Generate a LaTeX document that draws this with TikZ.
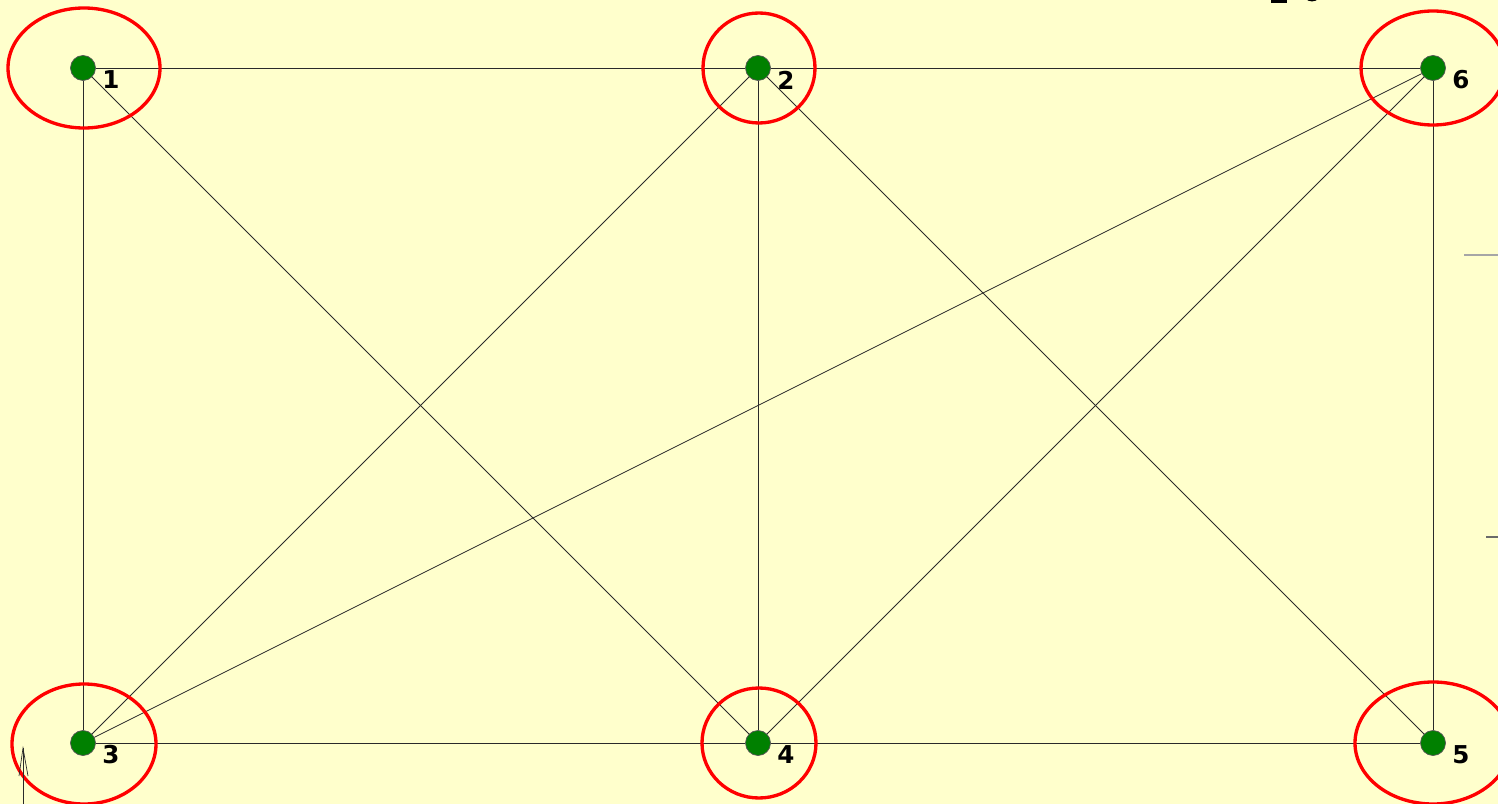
\documentclass[tikz,border=0pt]{standalone}
\usepackage{fontspec}
\setsansfont{DejaVu Sans}
\usepackage{xcolor}
\definecolor{paper}{HTML}{FFFFCC}
\definecolor{leaf}{HTML}{008000}
\definecolor{ink}{HTML}{2A2A2A}
\usetikzlibrary{calc,positioning,shapes.geometric}

\begin{document}
\begin{tikzpicture}[x=0.02cm, y=-0.02cm, font=\sffamily\bfseries\fontsize{14}{14}\selectfont,
		vertex/.style={circle, fill=leaf, draw=ink!80, line width=0.4pt, minimum size=0.5cm, inner sep=0pt},
		numlbl/.style={inner sep=0pt, text=black},
		link/.style={draw=ink, line width=0.45pt},
		ring/.style={draw=red, line width=1.9pt}]
			% Page
			\clip (0,0) rectangle (1498,804);
			\fill[paper] (0,0) rectangle (1498,804);

			% Vertices
			\node[vertex] (n1) at (83,68) {};
			\node[vertex] (n2) at (758,68) {};
			\node[vertex] (n6) at (1433,68) {};
			\node[vertex] (n3) at (83,743) {};
			\node[vertex] (n4) at (758,743) {};
			\node[vertex] (n5) at (1433,743) {};
			\foreach \v in {1,...,6}{
				\node[numlbl] (l\v) at ([shift={(28,12)}]n\v) {\v};
			}

			% Edges
			\foreach \a/\b in {1/2, 1/3, 1/4, 2/3, 2/4, 2/5, 2/6, 6/3, 6/4, 6/5, 3/4, 4/5}{
				\draw[link] (n\a) -- (n\b);
			}

			% Red rings round the vertices
			\draw[ring] (84,68) ellipse [x radius=76, y radius=60];
			\draw[ring] (759,68) ellipse [x radius=56, y radius=55];
			\draw[ring] (1433,68) ellipse [x radius=72, y radius=57];
			\draw[ring] (84,744) ellipse [x radius=72, y radius=60];
			\draw[ring] (759,743) ellipse [x radius=57, y radius=55];
			\draw[ring] (1433,743) ellipse [x radius=78, y radius=61];

			% Cut-off bits at the edges
			\fill[black] (1271,-2) rectangle (1287,3);
			\draw[black, line width=1.6pt] (1312,-8) ellipse [x radius=8, y radius=8];
			\draw[gray!70, line width=1.1pt] (1464,255) -- (1498,255);
			\draw[ink!70, line width=0.6pt] (1486,537) -- (1498,537);
			\draw[ink, line width=0.4pt] (23,804) -- (23,748);
			\draw[ink, line width=0.4pt] (19,776) -- (23,748) -- (28,776);
		\end{tikzpicture}
\end{document}
